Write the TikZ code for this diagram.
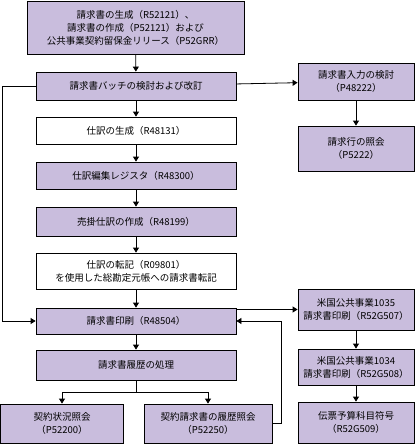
\documentclass[tikz,border=0pt]{standalone}
\usepackage{fontspec}
\setmainfont{Noto Sans CJK JP}
\usetikzlibrary{arrows.meta, positioning}
\definecolor{boxlilac}{RGB}{201,189,221}

\begin{document}
\begin{tikzpicture}[x=1pt, y=-1pt, line width=0.8pt, >={Triangle[length=5pt, width=6pt]},
  box/.style={draw, fill=boxlilac, minimum width=200pt, align=center, inner sep=1pt,
    font=\fontsize{9.5}{13}\selectfont},
  plainbox/.style={box, fill=white}]
  \useasboundingbox (0,0) rectangle (416,444);
  % main column
  \node[box, minimum width=217pt, minimum height=53pt] (gen) at (135.5,27.5)
    {請求書の生成（R52121）、\\請求書の作成（P52121）および\\公共事業契約留保金リリース（P52GRR）};
  \node[box, minimum height=28pt] (batch) at (136,86) {請求書バッチの検討および改訂};
  \node[plainbox, minimum height=27pt] (jgen) at (136,130.5) {仕訳の生成（R48131）};
  \node[box, minimum height=27pt] (jreg) at (136,175.5) {仕訳編集レジスタ（R48300）};
  \node[box, minimum height=29pt] (arj) at (136,221.5) {売掛仕訳の作成（R48199）};
  \node[plainbox, minimum height=36pt] (post) at (136,271)
    {仕訳の転記（R09801）\\を使用した総勘定元帳への請求書転記};
  \node[box, minimum height=26pt] (print) at (136,321) {請求書印刷（R48504）};
  \node[box, minimum height=30pt] (hist) at (136,365) {請求書履歴の処理};
  \node[box, minimum width=123pt, minimum height=39pt] (status) at (62,423.5)
    {契約状況照会\\（P52200）};
  \node[box, minimum width=128pt, minimum height=39pt] (chist) at (208,423.5)
    {契約請求書の履歴照会\\（P52250）};
  % right column
  \node[box, minimum width=116pt, minimum height=37pt] (review) at (356,81.5)
    {請求書入力の検討\\（P48222）};
  \node[box, minimum width=116pt, minimum height=45pt] (line) at (356,148.5)
    {請求行の照会\\（P5222）};
  \node[box, minimum width=116pt, minimum height=41pt] (us1035) at (356,309.5)
    {米国公共事業1035\\請求書印刷（R52G507）};
  \node[box, minimum width=116pt, minimum height=36pt] (us1034) at (356,367)
    {米国公共事業1034\\請求書印刷（R52G508）};
  \node[box, minimum width=116pt, minimum height=41pt] (code) at (356,422.5)
    {伝票予算科目符号\\（R52G509）};
  % connectors
  \draw[->] (gen) -- (batch);
  \draw[->] (batch) -- (jgen);
  \draw[->] (jgen) -- (jreg);
  \draw[->] (jreg) -- (arj);
  \draw[->] (arj) -- (post);
  \draw[->] (post) -- (print);
  \draw[->] (print) -- (hist);
  \coordinate (fork) at (136,392);
  \draw (hist) -- (fork);
  \draw[->] (fork) -| (status);
  \draw[->] (fork) -| (chist);
  \draw[->] (batch) -- (review);
  \draw[->] (review) -- (line);
  \draw[->] (us1035.west -| print.east) -- (us1035.west);
  \draw[->] (us1035) -- (us1034);
  \draw[->] (us1034) -- (code);
  \coordinate (leftbus) at (2,86);
  \draw[->] (batch.west) -- (leftbus) |- (print.west);
  \coordinate (rightbus) at (281,423.5);
  \draw[->] (chist.east) -- (rightbus) |- (print.east);
\end{tikzpicture}
\end{document}
